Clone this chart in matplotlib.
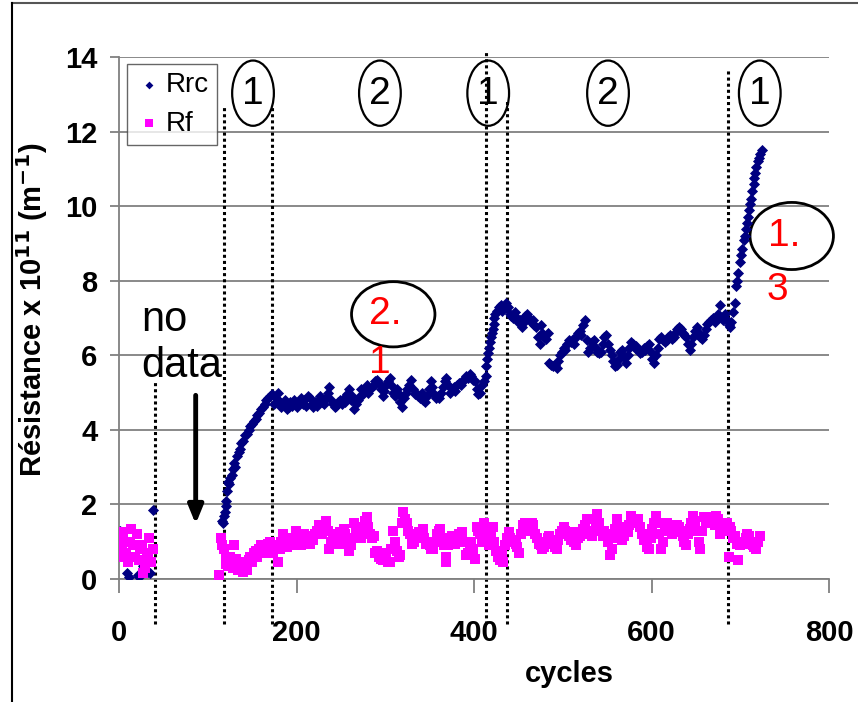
import matplotlib
matplotlib.use("Agg")
import matplotlib.pyplot as plt
import numpy as np
from matplotlib.patches import Ellipse
from matplotlib.lines import Line2D

plt.rcParams['font.family'] = ['Liberation Sans', 'DejaVu Sans']

# ---- data (cycle, value) ----
rrc = [(1, 1.3), (3, 1.15), (9, 0.15), (11, 0.05), (21, 0.1), (23, 0.05), (25, 0.45), (27, 0.35),
       (29, 0.25), (33, 0.2), (35, 0.15), (38, 1.85),
       (116, 1.55), (117, 1.5), (118, 1.7), (119, 1.8), (120, 1.95), (121, 2.1), (122, 2.35), (123, 2.6),
       (124, 2.55), (125, 2.7), (127, 2.8), (128, 2.95), (130, 3.1), (131, 3.0), (133, 3.3), (135, 3.4),
       (136, 3.5), (138, 3.65), (140, 3.7), (142, 3.85), (144, 3.9), (146, 4.0), (148, 4.1), (150, 4.15),
       (152, 4.25), (154, 4.3), (156, 4.4), (158, 4.45), (160, 4.55), (162, 4.6), (164, 4.7), (166, 4.8),
       (168, 4.85), (170, 4.9), (172, 4.95), (175, 4.7), (177, 4.85), (179, 5.0), (181, 4.75), (183, 4.6),
       (185, 4.7), (187, 4.8), (189, 4.55), (191, 4.6), (193, 4.75), (195, 4.65), (197, 4.8), (199, 4.7),
       (201, 4.6), (203, 4.75), (205, 4.85), (207, 4.7), (209, 4.8), (211, 4.65), (213, 4.9), (215, 4.85),
       (217, 4.7), (219, 4.6), (221, 4.75), (223, 4.65), (225, 4.8), (227, 4.9), (229, 4.75), (231, 4.7),
       (233, 4.85), (235, 5.0), (237, 5.15), (239, 4.8), (241, 4.7), (243, 4.6), (245, 4.65), (247, 4.75),
       (249, 4.8), (251, 4.7), (253, 4.85), (255, 4.75), (257, 4.95), (259, 5.1), (261, 4.8), (263, 4.9),
       (265, 4.55), (267, 4.7), (269, 4.8), (271, 4.9), (273, 5.1), (275, 4.95), (277, 5.05), (279, 5.2),
       (281, 5.0), (283, 5.1), (285, 5.15), (287, 5.2), (289, 5.3), (291, 5.35), (293, 5.25), (295, 5.1),
       (297, 4.9), (299, 5.05), (301, 5.2), (303, 5.3), (305, 5.4), (307, 5.2), (309, 5.0), (311, 4.9),
       (313, 5.1), (315, 4.95), (317, 4.75), (319, 4.6), (321, 4.85), (323, 5.0), (325, 5.1), (327, 5.2),
       (329, 5.35), (331, 5.1), (333, 4.95), (335, 5.0), (337, 4.9), (339, 4.85), (341, 5.0), (343, 4.8),
       (345, 4.75), (347, 4.9), (349, 5.1), (351, 5.3), (353, 5.15), (355, 4.95), (357, 4.85), (359, 4.9),
       (361, 4.85), (363, 5.0), (365, 5.15), (367, 5.3), (369, 5.4), (371, 5.2), (373, 5.0), (375, 5.1),
       (377, 5.15), (379, 5.05), (381, 5.2), (383, 5.25), (385, 5.2), (387, 5.3), (389, 5.35), (391, 5.45),
       (393, 5.4), (395, 5.5), (397, 5.45), (399, 5.35), (401, 5.3), (403, 5.1), (405, 4.95), (407, 5.0),
       (409, 5.2), (411, 5.3), (413, 5.45), (414, 5.7), (415, 5.9), (416, 6.05), (417, 6.2), (418, 6.35),
       (419, 6.5), (420, 6.6), (421, 6.7), (422, 6.85), (423, 7.0), (424, 7.1), (426, 7.2), (428, 7.3),
       (430, 7.35), (432, 7.2), (434, 7.3), (436, 7.4), (438, 7.3), (440, 7.1), (442, 7.05), (444, 7.0),
       (446, 7.15), (448, 7.0), (450, 6.9), (452, 6.95), (454, 6.75), (456, 6.9), (458, 7.05), (460, 7.1),
       (462, 7.0), (464, 6.9), (466, 6.95), (468, 6.8), (470, 6.75), (472, 6.5), (474, 6.3), (475, 6.8),
       (477, 6.6), (479, 6.5), (481, 6.45), (483, 6.6), (485, 5.8), (487, 5.75), (489, 5.7), (491, 5.75),
       (493, 5.65), (495, 5.85), (497, 6.0), (499, 6.1), (501, 6.2), (503, 6.15), (505, 6.3), (507, 6.4),
       (509, 6.35), (511, 6.45), (513, 6.3), (515, 6.5), (517, 6.6), (519, 6.65), (521, 6.55), (523, 6.8),
       (525, 6.95), (527, 6.4), (529, 6.1), (531, 6.2), (533, 6.35), (535, 6.4), (537, 6.2), (539, 6.1),
       (541, 6.05), (543, 6.1), (545, 6.3), (547, 6.5), (549, 6.55), (551, 6.3), (553, 6.15), (555, 6.0),
       (557, 5.85), (559, 5.7), (561, 5.75), (563, 5.9), (565, 6.1), (567, 6.15), (569, 5.95), (571, 5.8),
       (573, 6.0), (575, 6.2), (577, 6.35), (579, 6.3), (581, 6.2), (583, 6.25), (585, 6.15), (587, 6.05),
       (589, 6.1), (591, 6.2), (593, 6.15), (595, 6.25), (597, 6.3), (599, 6.1), (601, 5.9), (603, 5.8),
       (605, 6.0), (607, 6.2), (609, 6.45), (611, 6.5), (613, 6.4), (615, 6.35), (617, 6.4), (619, 6.5),
       (621, 6.55), (623, 6.45), (625, 6.5), (627, 6.6), (629, 6.7), (631, 6.75), (633, 6.7), (635, 6.6),
       (637, 6.55), (639, 6.5), (641, 6.3), (643, 6.15), (645, 6.3), (647, 6.5), (649, 6.65), (651, 6.75),
       (653, 6.6), (655, 6.5), (657, 6.45), (659, 6.55), (661, 6.7), (663, 6.85), (665, 6.9), (667, 6.95),
       (669, 7.0), (671, 6.9), (673, 7.0), (675, 7.1), (677, 7.35), (679, 7.0), (681, 6.95), (683, 7.1),
       (685, 6.95), (687, 6.8), (688, 6.75), (690, 6.9), (692, 7.15), (694, 7.4), (695, 7.85), (696, 8.0),
       (698, 8.2), (700, 8.5), (701, 8.7), (702, 8.85), (704, 9.1), (705, 9.2), (707, 9.4), (708, 9.55),
       (709, 9.7), (710, 9.9), (711, 10.05), (712, 10.2), (713, 10.4), (715, 10.6), (716, 10.75),
       (717, 10.9), (718, 11.05), (720, 11.2), (721, 11.3), (722, 11.4), (724, 11.5)]

rf = [(0, 0.8), (1, 1.1), (3, 0.9), (5, 1.25), (6, 0.6), (8, 0.7), (10, 0.45), (12, 1.0), (14, 1.35),
      (16, 0.9), (18, 0.6), (20, 1.2), (22, 0.5), (24, 0.8), (26, 0.9), (27, 0.15), (29, 0.3), (31, 0.7),
      (33, 0.55), (34, 1.1), (36, 0.45), (38, 0.8),
      (113, 0.1), (115, 1.1), (116, 0.9), (118, 0.8), (120, 0.55), (121, 0.4), (123, 0.35), (125, 0.6),
      (127, 0.5), (129, 0.3), (130, 0.9), (132, 0.55), (134, 0.25), (136, 0.35), (138, 0.45), (140, 0.2),
      (142, 0.3), (144, 0.25), (146, 0.5), (148, 0.6), (150, 0.45), (152, 0.7), (154, 0.75), (156, 0.6),
      (158, 0.8), (160, 0.9), (162, 0.7), (164, 0.85), (166, 0.8), (168, 0.95), (170, 1.0), (172, 0.85),
      (174, 0.7), (176, 0.9), (179, 0.45), (181, 0.8), (183, 1.0), (185, 1.2), (187, 0.95), (189, 0.85),
      (191, 1.0), (193, 1.1), (195, 0.9), (197, 1.05), (199, 1.3), (201, 1.15), (203, 1.0), (205, 0.9),
      (207, 1.1), (209, 1.2), (211, 1.15), (213, 1.0), (215, 0.95), (217, 1.1), (219, 1.05), (221, 1.2),
      (223, 1.3), (225, 1.45), (227, 1.3), (229, 1.2), (231, 1.4), (233, 1.55), (235, 1.3), (237, 0.8),
      (239, 1.0), (241, 1.15), (243, 1.2), (245, 1.05), (247, 0.95), (249, 1.25), (251, 1.0), (253, 1.35),
      (255, 1.2), (257, 0.95), (259, 0.75), (261, 0.9), (263, 1.1), (265, 1.5), (267, 1.35), (269, 1.2),
      (271, 1.25), (273, 1.1), (275, 1.4), (277, 1.55), (279, 1.65), (281, 1.4), (283, 1.2), (285, 1.1),
      (287, 1.15), (289, 0.7), (291, 0.75), (293, 0.6), (295, 0.55), (297, 0.5), (299, 0.7), (301, 0.6),
      (303, 0.45), (305, 0.45), (307, 0.8), (309, 1.3), (311, 1.0), (313, 0.75), (315, 0.6), (317, 0.65),
      (319, 1.5), (320, 1.8), (322, 1.6), (324, 1.5), (326, 1.3), (328, 1.2), (330, 0.95), (332, 1.0),
      (334, 1.2), (336, 1.1), (338, 1.25), (340, 1.15), (342, 1.35), (344, 1.1), (346, 0.95), (348, 1.0),
      (350, 0.9), (352, 0.8), (354, 0.8), (356, 1.0), (358, 1.2), (360, 1.3), (362, 1.35), (364, 1.1),
      (366, 0.9), (368, 0.6), (369, 0.45), (371, 0.9), (373, 1.05), (375, 1.15), (377, 1.0), (379, 0.95),
      (381, 1.05), (383, 1.2), (385, 1.1), (387, 1.25), (389, 1.0), (391, 0.65), (393, 0.7), (395, 0.9),
      (397, 1.0), (399, 0.8), (401, 0.55), (403, 1.4), (405, 1.3), (407, 1.2), (409, 1.0), (411, 1.5),
      (413, 1.3), (415, 1.15), (417, 0.9), (419, 1.2), (421, 1.4), (423, 1.0), (425, 0.75), (427, 0.6),
      (429, 0.5), (431, 0.7), (433, 0.45), (435, 0.9), (437, 1.1), (439, 1.25), (441, 1.1), (443, 1.0),
      (445, 1.05), (447, 0.95), (449, 0.85), (451, 0.7), (453, 1.2), (455, 1.45), (457, 1.5), (459, 1.45),
      (461, 1.5), (463, 1.3), (465, 1.5), (467, 1.45), (469, 1.2), (471, 1.1), (473, 0.95), (475, 0.9),
      (477, 0.8), (479, 0.85), (481, 1.0), (483, 1.1), (485, 1.15), (487, 1.0), (489, 0.95), (491, 0.85),
      (493, 0.8), (495, 1.05), (497, 1.2), (499, 1.3), (501, 1.4), (503, 1.3), (505, 1.2), (507, 1.15),
      (509, 1.05), (511, 1.25), (513, 1.0), (515, 0.9), (517, 1.1), (519, 1.15), (521, 1.2), (523, 1.35),
      (525, 1.45), (527, 1.6), (529, 1.3), (531, 1.2), (533, 1.15), (535, 1.3), (537, 1.5), (539, 1.75),
      (541, 1.5), (543, 1.3), (545, 1.15), (547, 1.3), (549, 1.2), (551, 1.0), (553, 0.65), (555, 0.8),
      (557, 1.1), (559, 1.35), (561, 1.6), (563, 1.4), (565, 1.2), (567, 1.05), (569, 1.15), (571, 1.3),
      (573, 1.25), (575, 1.45), (577, 1.7), (579, 1.6), (581, 1.5), (583, 1.55), (585, 1.6), (587, 1.4),
      (589, 1.2), (591, 1.05), (593, 1.1), (595, 0.85), (597, 0.8), (599, 1.1), (601, 1.35), (603, 1.5),
      (605, 1.7), (607, 1.5), (609, 1.2), (611, 0.8), (613, 1.0), (615, 1.3), (617, 1.5), (619, 1.4),
      (621, 1.3), (623, 1.2), (625, 1.25), (627, 1.3), (629, 1.45), (631, 1.4), (633, 1.3), (635, 1.15),
      (637, 1.0), (639, 0.9), (641, 1.2), (643, 1.35), (645, 1.5), (647, 1.7), (649, 1.55), (651, 1.3),
      (653, 1.0), (655, 0.8), (657, 1.3), (659, 1.65), (661, 1.55), (663, 1.5), (665, 1.6), (667, 1.65),
      (669, 1.55), (671, 1.45), (673, 1.7), (675, 1.6), (677, 1.2), (679, 1.3), (681, 1.45), (683, 1.5),
      (685, 1.5), (687, 0.6), (688, 1.4), (690, 1.3), (692, 1.1), (694, 1.15), (696, 0.95), (698, 0.5),
      (700, 0.9), (702, 1.0), (704, 0.95), (706, 1.1), (708, 1.2), (710, 1.15), (712, 1.0), (714, 0.9),
      (716, 0.85), (718, 0.8), (720, 1.0), (722, 1.15)]

# dotted phase boundaries: cycle, top, bottom
phase_lines = [(40.6, 5.3, -1.2), (118, 12.7, -1.2), (172, 12.7, -1.2),
               (413, 14.2, -1.2), (437, 12.85, -1.2), (686, 13.7, -1.2)]
# circled phase numbers at top: cycle, label
phase_labels = [(151, '1'), (294, '2'), (416, '1'), (551, '2'), (722, '1')]

rrc = np.array(rrc)
rf = np.array(rf)

fig = plt.figure(figsize=(8.58, 7.02), dpi=100)
ax = fig.add_axes([0.1387, 0.1752, 0.8275, 0.7436])

ax.scatter(rrc[:, 0], rrc[:, 1], marker='D', s=32, color='#000080', linewidths=0, label='Rrc', zorder=3)
ax.scatter(rf[:, 0], rf[:, 1], marker='s', s=55, color='#FF00FF', linewidths=0, label='Rf', zorder=3)

ax.set_xlim(0, 800)
ax.set_ylim(0, 14)
ax.set_xticks([0, 200, 400, 600, 800])
ax.set_yticks(range(0, 15, 2))
ax.yaxis.grid(True, color='#808080', lw=1.3)
ax.set_axisbelow(True)
for s in ['top', 'right']:
    ax.spines[s].set_visible(False)
for s in ['left', 'bottom']:
    ax.spines[s].set_color('#808080')
    ax.spines[s].set_linewidth(1.3)
ax.tick_params(axis='y', length=6.5, width=1.3, color='#808080', pad=9, labelsize=21)
ax.tick_params(axis='x', length=10, width=1.3, color='#808080', pad=19, labelsize=21)
for lab in ax.get_xticklabels() + ax.get_yticklabels():
    lab.set_fontweight('bold')

ax.set_xlabel('cycles', fontsize=21, fontweight='bold')
ax.xaxis.set_label_coords(0.635, -0.155)
ax.set_ylabel(r'Résistance x 10$^{\mathbf{11}}$ (m$^{\mathbf{-1}}$)', fontsize=21, fontweight='bold')
ax.yaxis.set_label_coords(-0.097, 0.515)

for x, top, bot in phase_lines:
    ax.plot([x, x], [bot, top], color='black', lw=2.2, ls=(0, (1, 1)), clip_on=False, zorder=2)

for x, lab in phase_labels:
    ax.add_patch(Ellipse((x, 13.03), 47, 1.75, fill=False, ec='black', lw=1.6, clip_on=False, zorder=4))
    ax.text(x, 13.0, lab, fontsize=28, ha='center', va='center', zorder=5)

# red annotations
ax.add_patch(Ellipse((309, 7.1), 94, 1.75, fill=False, ec='black', lw=2, clip_on=False))
ax.text(300, 7.1, '2.', color='red', fontsize=28, ha='center', va='center')
ax.text(294, 5.8, '1', color='red', fontsize=28, ha='center', va='center')
ax.add_patch(Ellipse((758, 9.2), 94, 1.8, fill=False, ec='black', lw=2, clip_on=False))
ax.text(750, 9.2, '1.', color='red', fontsize=28, ha='center', va='center', clip_on=False)
ax.text(742, 7.75, '3', color='red', fontsize=28, ha='center', va='center', clip_on=False)

# no data arrow
ax.text(25, 6.95, 'no', fontsize=30, ha='left', va='center')
ax.text(25, 5.7, 'data', fontsize=30, ha='left', va='center')
ax.annotate('', xy=(86.4, 1.4), xytext=(86.4, 5.0),
            arrowprops=dict(arrowstyle='-|>,head_width=0.45,head_length=1.1', color='black', lw=3.5))

leg = ax.legend(loc='upper left', bbox_to_anchor=(0.011, 0.987), fontsize=20, frameon=True,
                fancybox=False, edgecolor='#404040', handletextpad=0.1, borderpad=0.3,
                labelspacing=0.45, handlelength=1.0, markerscale=0.7, borderaxespad=0)
leg.get_frame().set_linewidth(1.0)

# outer frame lines of the screenshot
fig.add_artist(Line2D([12 / 858, 1], [1 - 3 / 702, 1 - 3 / 702], color='#555555', lw=1.5))
fig.add_artist(Line2D([12 / 858, 12 / 858], [0, 1 - 3 / 702], color='black', lw=1.5))

fig.savefig('out.png', dpi=100)
